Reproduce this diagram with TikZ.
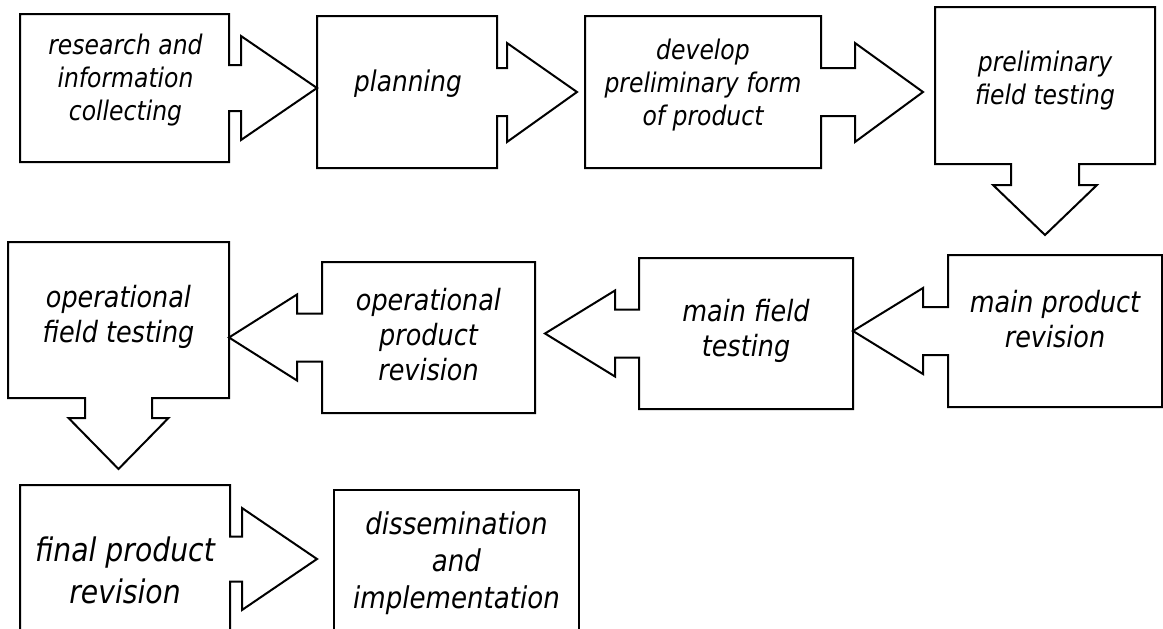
\documentclass[tikz,border=0pt]{standalone}
\usepackage{fontspec}
\setmainfont{DejaVu Sans}[FakeStretch=0.87]
\usetikzlibrary{calc}
\tikzset{
    box_node/.style = {rectangle, inner sep=0pt, outer sep=0pt},
    stage_text/.style 2 args = {align=center, inner sep=0pt, font=\itshape\fontsize{#1}{#2}\selectfont},
    outline/.style = {draw=black, line width=2pt, line join=miter}
}

\begin{document}
\begin{tikzpicture}[x=1pt, y=-1pt]
    \clip (0,0) rectangle (1163,629);

    % boxes
    \node [box_node, minimum width=209, minimum height=148] (research) at (124.5,88) {};
    \node [box_node, minimum width=180, minimum height=152] (planning) at (407,92) {};
    \node [box_node, minimum width=236, minimum height=152] (develop) at (703,92) {};
    \node [box_node, minimum width=220, minimum height=157] (prelim) at (1045,85.5) {};

    \node [box_node, minimum width=214, minimum height=152] (mainrev) at (1055,331) {};
    \node [box_node, minimum width=214, minimum height=151] (mainfield) at (746,333.5) {};
    \node [box_node, minimum width=213, minimum height=151] (oprev) at (428.5,337.5) {};
    \node [box_node, minimum width=221, minimum height=156] (opfield) at (118.5,320) {};

    \node [box_node, minimum width=210, minimum height=148] (finalrev) at (125,559) {};
    \node [box_node, minimum width=245, minimum height=154] (dissem) at (456.5,567) {};

    % texts
    \node [stage_text={27}{33}] (research_t) at ($(research)+(1,-7.5)$) {research and\\information\\collecting};
    \node [stage_text={28.5}{34}] (planning_t) at ($(planning)+(1,-8)$) {planning};
    \node [stage_text={27}{33}] (develop_t) at ($(develop)+(0,-7)$) {develop\\preliminary form\\of product};
    \node [stage_text={27}{33}] (prelim_t) at ($(prelim)+(0,-4.5)$) {preliminary\\field testing};

    \node [stage_text={29.3}{35}] (mainrev_t) at ($(mainrev)+(0,-11.5)$) {main product\\revision};
    \node [stage_text={29.3}{35}] (mainfield_t) at ($(mainfield)+(0,-3)$) {main field\\testing};
    \node [stage_text={29.3}{35}] (oprev_t) at ($(oprev)+(0,-2.5)$) {operational\\product\\revision};
    \node [stage_text={29.3}{35}] (opfield_t) at ($(opfield)+(0,-3.5)$) {operational\\field testing};

    \node [stage_text={32.5}{42}] (finalrev_t) at ($(finalrev)+(0,11)$) {final product\\revision};
    \node [stage_text={30}{37}] (dissem_t) at ($(dissem)+(0,-4)$) {dissemination\\and\\implementation};

    % research -> planning
    \draw [outline] (research.north west) -- (research.north east)
        -- ($(research.east)+(0,-23)$) -| ++(12,-29)
        -- (research.east -| planning.west)
        -- ($(research.east)+(12,52)$) |- ($(research.east)+(0,23)$)
        -- (research.south east) -- (research.south west) -- cycle;

    % planning -> develop
    \draw [outline] (planning.north west) -- (planning.north east)
        -- ($(planning.east)+(0,-24)$) -| ++(10,-25)
        -- ($(planning.east -| develop.west)+(-8,0)$)
        -- ($(planning.east)+(10,50)$) |- ($(planning.east)+(0,24)$)
        -- (planning.south east) -- (planning.south west) -- cycle;

    % develop -> prelim
    \draw [outline] (develop.north west) -- (develop.north east)
        -- ($(develop.east)+(0,-24)$) -| ++(34,-25)
        -- ($(develop.east -| prelim.west)+(-12,0)$)
        -- ($(develop.east)+(34,50)$) |- ($(develop.east)+(0,24)$)
        -- (develop.south east) -- (develop.south west) -- cycle;

    % prelim -> mainrev
    \draw [outline] (prelim.south west) -- (prelim.north west) -- (prelim.north east) -- (prelim.south east)
        -- ($(prelim.south)+(34,0)$) |- ++(18,21)
        -- ($(prelim.south |- mainrev.north)+(0,-20)$)
        -- ($(prelim.south)+(-52,21)$) -| ($(prelim.south)+(-34,0)$)
        -- cycle;

    % mainrev -> mainfield
    \draw [outline] (mainrev.north east) -- (mainrev.north west)
        -- ($(mainrev.west)+(0,-24)$) -| ++(-25,-19)
        -- (mainrev.west -| mainfield.east)
        -- ($(mainrev.west)+(-25,43)$) |- ($(mainrev.west)+(0,24)$)
        -- (mainrev.south west) -- (mainrev.south east) -- cycle;

    % mainfield -> oprev
    \draw [outline] (mainfield.north east) -- (mainfield.north west)
        -- ($(mainfield.west)+(0,-24)$) -| ++(-24,-19)
        -- ($(mainfield.west -| oprev.east)+(10,0)$)
        -- ($(mainfield.west)+(-24,43)$) |- ($(mainfield.west)+(0,24)$)
        -- (mainfield.south west) -- (mainfield.south east) -- cycle;

    % oprev -> opfield
    \draw [outline] (oprev.north east) -- (oprev.north west)
        -- ($(oprev.west)+(0,-24)$) -| ++(-25,-19)
        -- (oprev.west -| opfield.east)
        -- ($(oprev.west)+(-25,43)$) |- ($(oprev.west)+(0,24)$)
        -- (oprev.south west) -- (oprev.south east) -- cycle;

    % opfield -> finalrev
    \draw [outline] (opfield.south west) -- (opfield.north west) -- (opfield.north east) -- (opfield.south east)
        -- ($(opfield.south)+(33.5,0)$) |- ++(16.5,20)
        -- ($(opfield.south |- finalrev.north)+(0,-16)$)
        -- ($(opfield.south)+(-50,20)$) -| ($(opfield.south)+(-33.5,0)$)
        -- cycle;

    % finalrev -> dissem
    \draw [outline] (finalrev.north west) -- (finalrev.north east)
        -- ($(finalrev.east)+(0,-22.5)$) -| ++(12,-28.5)
        -- ($(finalrev.east -| dissem.west)+(-17,0)$)
        -- ($(finalrev.east)+(12,51)$) |- ($(finalrev.east)+(0,22.5)$)
        -- (finalrev.south east) -- (finalrev.south west) -- cycle;

    \draw [outline] (dissem.south west) -- (dissem.north west) -- (dissem.north east) -- (dissem.south east);
\end{tikzpicture}
\end{document}
